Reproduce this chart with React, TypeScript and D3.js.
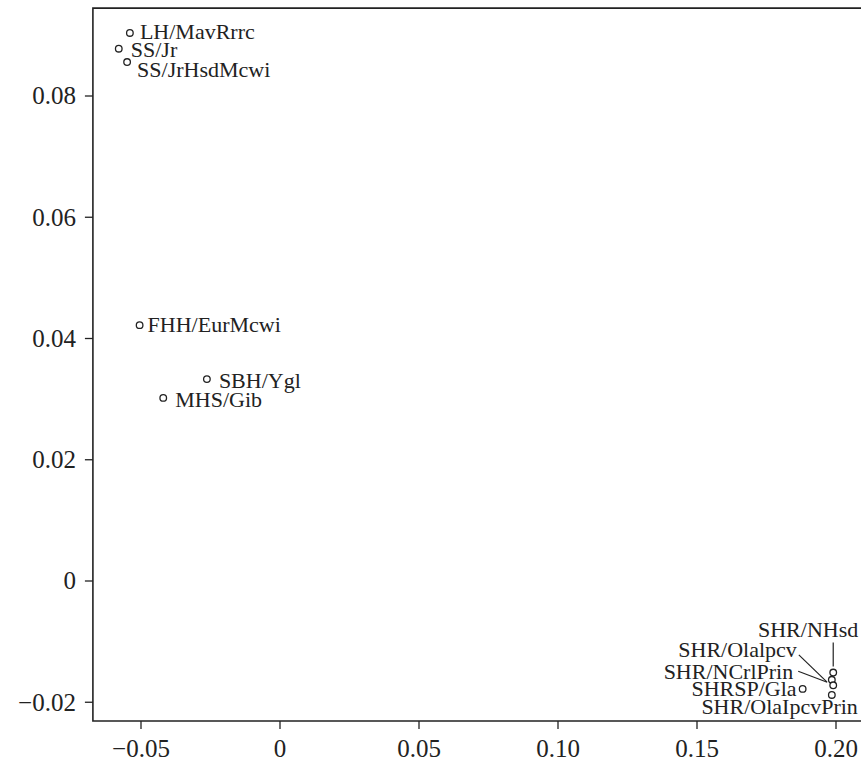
import React from "react";
import * as d3 from "d3";

const names = [
  "LH/MavRrrc",
  "SS/Jr",
  "SS/JrHsdMcwi",
  "FHH/EurMcwi",
  "SBH/Ygl",
  "MHS/Gib",
  "SHR/NHsd",
  "SHR/Olalpcv",
  "SHR/NCrlPrin",
  "SHRSP/Gla",
  "SHR/OlaIpcvPrin",
];
const xValues = [-0.054, -0.058, -0.055, -0.0505, -0.0263, -0.042, 0.199, 0.1985, 0.199, 0.188, 0.1985];
const yValues = [0.0904, 0.0878, 0.0856, 0.0422, 0.0333, 0.0302, -0.0151, -0.0163, -0.0172, -0.0178, -0.0188];

const xTicks = [-0.05, 0, 0.05, 0.1, 0.15, 0.2];
const xTickLabels = ["\u22120.05", "0", "0.05", "0.10", "0.15", "0.20"];
const yTicks = [-0.02, 0, 0.02, 0.04, 0.06, 0.08];
const yTickLabels = ["\u22120.02", "0", "0.02", "0.04", "0.06", "0.08"];

// label layout (pixel offsets from the point): anchor, dx, dy(center), optional leader
type Lab = { anchor: "start" | "end"; dx: number; dy: number; leader?: [number, number, number, number] };
const labelLayout: Lab[] = [
  { anchor: "start", dx: 10, dy: -1.5 },
  { anchor: "start", dx: 12, dy: 1.5 },
  { anchor: "start", dx: 10, dy: 7.5 },
  { anchor: "start", dx: 8, dy: 0 },
  { anchor: "start", dx: 12, dy: 1.5 },
  { anchor: "start", dx: 12, dy: 2 },
  { anchor: "end", dx: 25, dy: -43, leader: [0, -30, 0, -6] },
  { anchor: "end", dx: -35, dy: -30, leader: [-33, -25, -5, 2] },
  { anchor: "end", dx: -40, dy: -14, leader: [-35, -14, -6, -3] },
  { anchor: "end", dx: -6, dy: 0 },
  { anchor: "end", dx: 26, dy: 12 },
];

const W = 861;
const H = 762;
const FONT = "'Liberation Serif', 'Times New Roman', serif";

export default function App() {
  const x = d3.scaleLinear().domain([0, 0.2]).range([280, 836]);
  const y = d3.scaleLinear().domain([0, 0.08]).range([581, 96]);
  const left = x(-0.0673);
  const top = y(0.0945);
  const bottom = y(-0.0231);
  const labelSize = 22;
  const tickSize = 25;

  return (
    <svg
      width={W}
      height={H}
      style={{ position: "absolute", left: 0, top: 0, background: "#fff" }}
      fontFamily={FONT}
    >
      <rect x={0} y={0} width={W} height={H} fill="#fff" />
      {/* frame */}
      <path
        d={`M${W + 10},${top}H${left}V${bottom}H${W + 10}`}
        fill="none"
        stroke="#222"
        strokeWidth={1.6}
      />
      {/* x ticks */}
      {xTicks.map((t, i) => (
        <g key={"xt" + i}>
          <line x1={x(t)} x2={x(t)} y1={bottom} y2={bottom + 8} stroke="#222" strokeWidth={1.3} />
          <text x={x(t)} y={757} textAnchor="middle" fontSize={tickSize} fill="#222">
            {xTickLabels[i]}
          </text>
        </g>
      ))}
      {/* y ticks */}
      {yTicks.map((t, i) => (
        <g key={"yt" + i}>
          <line x1={left - 8} x2={left} y1={y(t)} y2={y(t)} stroke="#222" strokeWidth={1.3} />
          <text x={left - 17} y={y(t) + tickSize * 0.33} textAnchor="end" fontSize={tickSize} fill="#222">
            {yTickLabels[i]}
          </text>
        </g>
      ))}
      {/* leaders */}
      {names.map((n, i) => {
        const L = labelLayout[i].leader;
        if (!L) return null;
        const px = x(xValues[i]);
        const py = y(yValues[i]);
        return (
          <line
            key={"ld" + i}
            x1={px + L[0]}
            y1={py + L[1]}
            x2={px + L[2]}
            y2={py + L[3]}
            stroke="#222"
            strokeWidth={1.2}
          />
        );
      })}
      {/* points */}
      {names.map((n, i) => (
        <circle
          key={"pt" + i}
          cx={x(xValues[i])}
          cy={y(yValues[i])}
          r={3.3}
          fill="#fff"
          stroke="#222"
          strokeWidth={1.3}
        />
      ))}
      {/* labels */}
      {names.map((n, i) => {
        const L = labelLayout[i];
        const px = x(xValues[i]);
        const py = y(yValues[i]);
        return (
          <text
            key={"lb" + i}
            x={px + L.dx}
            y={py + L.dy + labelSize * 0.33}
            textAnchor={L.anchor}
            fontSize={labelSize}
            fill="#222"
          >
            {n}
          </text>
        );
      })}
    </svg>
  );
}
